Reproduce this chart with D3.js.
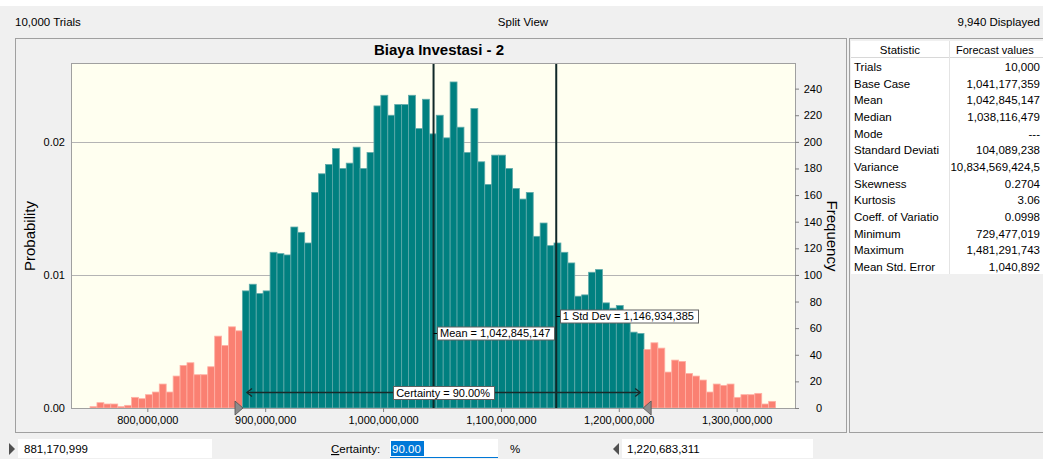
<!DOCTYPE html>
<html>
<head>
<meta charset="utf-8">
<script src="https://cdn.jsdelivr.net/npm/d3@7"></script>
<style>
  body { margin: 0; background: #f0f0f0; }
  svg text { font-family: "Liberation Sans", Arial, sans-serif; fill: #000; }
</style>
</head>
<body>
<script>
// histogram of the forecast (frequency per bin, 9,940 displayed trials)
const binCounts = [
  1, 4, 3, 3, 1, 2, 8, 7, 10, 12, 18, 12, 24, 32, 34, 25, 25, 31, 54, 47, 61, 58,
  88, 93, 86, 88, 117, 116, 115, 136, 132, 124, 162, 176, 183, 195, 180, 184, 196, 180,
  192, 227, 235, 220, 228, 228, 235, 210, 232, 206, 220, 203, 245, 211, 192, 225, 185, 168,
  190, 190, 180, 165, 157, 162, 129, 139, 122, 124, 117, 109, 84, 85, 102, 104, 79, 75,
  77, 66, 57, 56,
  44, 49, 45, 27, 36, 35, 26, 24, 21, 12, 18, 17, 18, 8, 10, 10, 11, 3, 5
];
const binStart = 751400000;
const binWidth = 5875000;

const xTicks = [800000000, 900000000, 1000000000, 1100000000, 1200000000, 1300000000];
const probTicks = [0, 0.01, 0.02];
const freqTicks = [0, 20, 40, 60, 80, 100, 120, 140, 160, 180, 200, 220, 240];

const trials = 10000;
const displayed = 9940;
const meanValue = 1042845147;
const stdDevLine = 1146934385;
const certLow = 881170999;
const certHigh = 1220683311;
const certainty = 90.00;

const statNames = ['Trials', 'Base Case', 'Mean', 'Median', 'Mode', 'Standard Deviati', 'Variance',
  'Skewness', 'Kurtosis', 'Coeff. of Variatio', 'Minimum', 'Maximum', 'Mean Std. Error'];
const statValues = ['10,000', '1,041,177,359', '1,042,845,147', '1,038,116,479', '---', '104,089,238',
  '10,834,569,424,5', '0.2704', '3.06', '0.0998', '729,477,019', '1,481,291,743', '1,040,892'];

const W = 1043, H = 459;
const margin = { top: 64, right: 248, bottom: 51, left: 72 };
const w = W - margin.left - margin.right;
const h = H - margin.top - margin.bottom;
const fmt = d3.format(',');

const svg = d3.select('body').append('svg')
  .attr('width', W).attr('height', H).style('display', 'block');

svg.append('rect').attr('width', W).attr('height', H).attr('fill', '#f0f0f0');
svg.append('rect').attr('width', W).attr('height', 6).attr('fill', '#ffffff');

// header line
svg.append('text').attr('x', 15).attr('y', 26).style('font-size', '11.5px').text(fmt(trials) + ' Trials');
svg.append('text').attr('x', 523).attr('y', 26).attr('text-anchor', 'middle').style('font-size', '11.5px').text('Split View');
svg.append('text').attr('x', 1040).attr('y', 26).attr('text-anchor', 'end').style('font-size', '11.5px').text(fmt(displayed) + ' Displayed');

// chart panel
svg.append('rect').attr('x', 15.5).attr('y', 38.5).attr('width', 831).attr('height', 394)
  .attr('fill', '#f0f0f0').attr('stroke', '#a0a0a0');

svg.append('text').attr('x', 439).attr('y', 55).attr('text-anchor', 'middle')
  .style('font-size', '15px').style('font-weight', 'bold').text('Biaya Investasi - 2');

const x = d3.scaleLinear().domain([736100000, 1349500000]).range([0, w]);
const yFreq = d3.scaleLinear().domain([0, 258.5]).range([h, 0]);
const yProb = d3.scaleLinear().domain([0, 258.5 / trials]).range([h, 0]);

const g = svg.append('g').attr('transform', 'translate(' + margin.left + ',' + margin.top + ')');

g.append('rect').attr('width', w).attr('height', h).attr('fill', '#fffff0');

// grid lines at probability ticks
g.selectAll('line.grid').data(probTicks.filter(d => d > 0)).enter().append('line')
  .attr('class', 'grid')
  .attr('x1', 0).attr('x2', w + 4)
  .attr('y1', d => Math.round(yProb(d)) + 0.5).attr('y2', d => Math.round(yProb(d)) + 0.5)
  .attr('stroke', '#b4b4b4');

// bars
g.selectAll('rect.bar').data(binCounts).enter().append('rect')
  .attr('class', 'bar')
  .attr('x', (d, i) => x(binStart + i * binWidth))
  .attr('width', (d, i) => x(binStart + (i + 1) * binWidth) - x(binStart + i * binWidth))
  .attr('y', d => yFreq(d))
  .attr('height', d => h - yFreq(d))
  .attr('fill', (d, i) => {
    const c = binStart + (i + 0.5) * binWidth;
    return c >= certLow && c <= certHigh ? '#008080' : '#fa8072';
  })
  .attr('stroke', (d, i) => {
    const c = binStart + (i + 0.5) * binWidth;
    return c >= certLow && c <= certHigh ? '#5faaaa' : '#ffb0a4';
  })
  .attr('stroke-width', 0.8);

// mean and std dev lines
[meanValue, stdDevLine].forEach(v => {
  g.append('line').attr('x1', x(v)).attr('x2', x(v)).attr('y1', 0).attr('y2', h)
    .attr('stroke', '#102828').attr('stroke-width', 2);
});

function labelBox(px, top, str, anchor) {
  const t = svg.append('text').attr('y', top + 10.5).style('font-size', '11px').text(str);
  const tw = t.node().getComputedTextLength();
  const bw = tw + 7;
  const left = anchor === 'middle' ? px - bw / 2 : px;
  svg.insert('rect', () => t.node())
    .attr('x', Math.round(left) + 0.5).attr('y', top + 0.5)
    .attr('width', Math.round(bw)).attr('height', 13)
    .attr('fill', '#ffffff').attr('stroke', '#606060');
  t.attr('x', left + 3);
  return left;
}

const mx = margin.left + x(meanValue);
svg.append('line').attr('x1', mx).attr('x2', mx + 4).attr('y1', 333.5).attr('y2', 333.5).attr('stroke', '#000');
labelBox(mx + 3.5, 326.5, 'Mean = ' + fmt(meanValue), 'start');

const sx = margin.left + x(stdDevLine);
svg.append('line').attr('x1', sx).attr('x2', sx + 4).attr('y1', 316.5).attr('y2', 316.5).attr('stroke', '#000');
labelBox(sx + 3.5, 309.5, '1 Std Dev = ' + fmt(stdDevLine), 'start');

// certainty range arrow
const cl = margin.left + x(certLow) + 4;
const ch = margin.left + x(certHigh) - 3;
const ay = 392.5;
svg.append('line').attr('x1', cl).attr('x2', ch).attr('y1', ay).attr('y2', ay)
  .attr('stroke', '#1a2a2a').attr('stroke-width', 1.4);
svg.append('path').attr('d', 'M' + (cl + 5) + ',' + (ay - 4) + 'L' + cl + ',' + ay + 'L' + (cl + 5) + ',' + (ay + 4))
  .attr('fill', 'none').attr('stroke', '#1a2a2a').attr('stroke-width', 1.4);
svg.append('path').attr('d', 'M' + (ch - 5) + ',' + (ay - 4) + 'L' + ch + ',' + ay + 'L' + (ch - 5) + ',' + (ay + 4))
  .attr('fill', 'none').attr('stroke', '#1a2a2a').attr('stroke-width', 1.4);
labelBox((cl + ch) / 2, 386, 'Certainty = ' + certainty.toFixed(2) + '%', 'middle');

// plot border
g.append('rect').attr('x', -0.5).attr('y', -0.5).attr('width', w + 1).attr('height', h + 1)
  .attr('fill', 'none').attr('stroke', '#a0a0a0');

// axes
const xAxis = g.append('g').attr('transform', 'translate(0,' + h + ')')
  .call(d3.axisBottom(x).tickValues(xTicks).tickFormat(fmt).tickSize(4).tickPadding(4));
xAxis.select('.domain').remove();

const leftAxis = g.append('g')
  .call(d3.axisLeft(yProb).tickValues(probTicks).tickFormat(d3.format('.2f')).tickSize(0).tickPadding(7));
leftAxis.select('.domain').remove();

const rightAxis = g.append('g').attr('transform', 'translate(' + w + ',0)')
  .call(d3.axisRight(yFreq).tickValues(freqTicks).tickSize(4));
rightAxis.select('.domain').remove();
rightAxis.selectAll('text').attr('x', 27).attr('text-anchor', 'end');

svg.selectAll('.tick line').attr('stroke', '#808080');
svg.selectAll('.tick text').style('font-size', '11px').style('font-family', '"Liberation Sans", Arial, sans-serif').attr('fill', '#000');

// certainty grabbers on the axis
const lx = margin.left + x(certLow);
const hx = margin.left + x(certHigh);
const by = margin.top + h;
svg.append('path').attr('d', 'M' + (lx - 8) + ',' + (by - 7) + 'L' + lx + ',' + by + 'L' + (lx - 8) + ',' + (by + 7) + 'Z')
  .attr('fill', '#8c8c8c').attr('stroke', '#505050').attr('stroke-width', 0.8);
svg.append('path').attr('d', 'M' + (hx + 8) + ',' + (by - 7) + 'L' + hx + ',' + by + 'L' + (hx + 8) + ',' + (by + 7) + 'Z')
  .attr('fill', '#8c8c8c').attr('stroke', '#505050').attr('stroke-width', 0.8);

// axis titles
svg.append('text').attr('transform', 'translate(35,236) rotate(-90)').attr('text-anchor', 'middle')
  .style('font-size', '15px').text('Probability');
svg.append('text').attr('transform', 'translate(827,236) rotate(90)').attr('text-anchor', 'middle')
  .style('font-size', '15px').text('Frequency');

// statistics table
svg.append('rect').attr('x', 849.5).attr('y', 38.5).attr('width', 200).attr('height', 394)
  .attr('fill', '#f0f0f0').attr('stroke', '#a0a0a0');
svg.append('rect').attr('x', 851).attr('y', 41).attr('width', 200).attr('height', 233).attr('fill', '#ffffff');
svg.append('line').attr('x1', 851).attr('x2', W).attr('y1', 57.5).attr('y2', 57.5).attr('stroke', '#d8d8d8');
svg.append('line').attr('x1', 949.5).attr('x2', 949.5).attr('y1', 41).attr('y2', 274).attr('stroke', '#e4e4e4');
svg.append('text').attr('x', 900).attr('y', 54).attr('text-anchor', 'middle').style('font-size', '11.5px').text('Statistic');
svg.append('text').attr('x', 956).attr('y', 54).style('font-size', '11px').text('Forecast values');

const rowH = 16.67;
const rows = svg.append('g').selectAll('g').data(statNames).enter().append('g')
  .attr('transform', (d, i) => 'translate(0,' + (71 + i * rowH) + ')');
rows.append('text').attr('x', 854).style('font-size', '11.5px').text(d => d);
rows.append('text').attr('x', 1040).attr('text-anchor', 'end').style('font-size', '11.5px')
  .text((d, i) => statValues[i]);

// bottom controls
svg.append('path').attr('d', 'M9,443L15,449L9,455Z').attr('fill', '#505050');
svg.append('rect').attr('x', 18).attr('y', 439).attr('width', 194).attr('height', 19).attr('fill', '#ffffff');
svg.append('text').attr('x', 24).attr('y', 453).style('font-size', '11.5px').text(fmt(certLow));

const certLabel = svg.append('text').attr('x', 331).attr('y', 453).style('font-size', '11.5px');
certLabel.append('tspan').style('text-decoration', 'underline').text('C');
certLabel.append('tspan').text('ertainty:');

svg.append('rect').attr('x', 390).attr('y', 439).attr('width', 108).attr('height', 19).attr('fill', '#ffffff');
svg.append('line').attr('x1', 390).attr('x2', 498).attr('y1', 457.5).attr('y2', 457.5).attr('stroke', '#0078d7');
svg.append('rect').attr('x', 391).attr('y', 441).attr('width', 33).attr('height', 15).attr('fill', '#0078d7');
svg.append('text').attr('x', 392).attr('y', 453).style('font-size', '11.5px').style('fill', '#ffffff').text(certainty.toFixed(2));
svg.append('text').attr('x', 510).attr('y', 453).style('font-size', '11.5px').text('%');

svg.append('path').attr('d', 'M619,443L613,449L619,455Z').attr('fill', '#505050');
svg.append('rect').attr('x', 622).attr('y', 439).attr('width', 191).attr('height', 19).attr('fill', '#ffffff');
svg.append('text').attr('x', 627).attr('y', 453).style('font-size', '11.5px').text(fmt(certHigh));
</script>
</body>
</html>
